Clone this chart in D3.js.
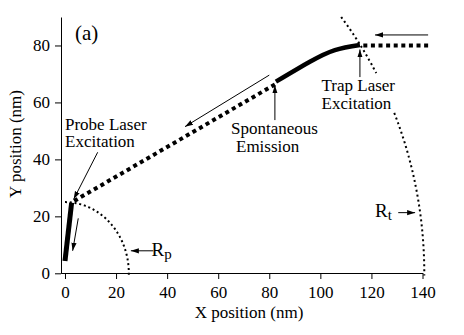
<!DOCTYPE html>
<html><head><meta charset="utf-8">
<script src="https://cdn.jsdelivr.net/npm/d3@7"></script>
<style>
html,body{margin:0;padding:0;background:#fff;}
svg{display:block;}
svg text{font-family:"Liberation Serif","Times New Roman",serif;}
</style></head><body>
<svg id="chart" width="464" height="335"></svg>
<script>
// Axis ticks (nm)
const xTicks = [0, 20, 40, 60, 80, 100, 120, 140];
const yTicks = [0, 20, 40, 60, 80];

// Atom trajectory pieces, points in nm
const trapApproach = [[142.2, 80.0], [116.0, 80.0]];                  // incoming atom
const trapKick = [[115.5, 80.2], [105.7, 78.4], [95.9, 74.3], [82.6, 67.3]]; // pushed by trap laser
const freeFlight = [[82.2, 66.3], [3.2, 25.2]];                       // after spontaneous emission
const probeKick = [[2.6, 24.8], [0.0, 4.3]];                          // pushed by probe laser

// Radii of the probe and trap beams (nm), and the y-ranges where each arc is drawn
const radiusProbe = 25;
const radiusTrap = 140.7;
const probeArcSpans = [[25, -0.5]];
const trapArcSpans = [[90, 70.3], [56.3, -0.8]];

// Pointer arrows, [from, to] in nm
const arrows = [
  [[142.2, 83.7], [121.4, 83.7]],
  [[80.0, 69.6], [47.0, 51.5]],
  [[115.5, 68.9], [115.5, 78.6]],
  [[82.2, 53.8], [82.2, 66.0]],
  [[12.8, 42.5], [3.4, 26.0]],
  [[5.2, 19.3], [3.0, 7.9]],
  [[34.6, 7.9], [25.8, 7.9]],
  [[130.5, 21.3], [137.1, 21.3]]
];

const serif = "Liberation Serif";
const svg = d3.select("#chart");
const x = d3.scaleLinear().domain([-1.6, 140]).range([60.9, 422.5]);
const y = d3.scaleLinear().domain([0, 90]).range([273.3, 17]);

svg.append("defs").append("marker")
  .attr("id", "head").attr("markerUnits", "userSpaceOnUse")
  .attr("markerWidth", 10).attr("markerHeight", 8)
  .attr("viewBox", "0 -4 10 8").attr("refX", 8).attr("refY", 0)
  .attr("orient", "auto")
  .append("path").attr("d", "M0,-2.6L8,0L0,2.6Z").attr("fill", "#000");

// Axes
const xAxis = svg.append("g").attr("transform", "translate(0,273)")
  .call(d3.axisBottom(x).tickValues(xTicks).tickSize(6).tickSizeOuter(0).tickPadding(7));
const yAxis = svg.append("g").attr("transform", "translate(61,0)")
  .call(d3.axisLeft(y).tickValues(yTicks).tickSize(6).tickSizeOuter(0).tickPadding(5));
[xAxis, yAxis].forEach(g => {
  g.attr("font-family", serif);
  g.selectAll("text").attr("font-family", serif).attr("font-size", 17).attr("fill", "#000");
  g.selectAll("path,line").attr("stroke", "#000").attr("stroke-width", 1);
});

svg.append("text").attr("x", 249).attr("y", 318).attr("text-anchor", "middle")
  .attr("font-family", serif).attr("font-size", 17).text("X position (nm)");
svg.append("text").attr("transform", "translate(21,144) rotate(-90)").attr("text-anchor", "middle")
  .attr("font-family", serif).attr("font-size", 17).text("Y position (nm)");

const line = d3.line().x(d => x(d[0])).y(d => y(d[1]));

// Beam radius arcs
function arcPoints(r, yFrom, yTo) {
  const a0 = Math.asin(Math.min(1, yFrom / r)), a1 = Math.asin(yTo / r);
  return d3.range(0, 121).map(i => {
    const a = a0 + (a1 - a0) * i / 120;
    return [r * Math.cos(a), r * Math.sin(a)];
  });
}
probeArcSpans.forEach(s => svg.append("path").attr("d", line(arcPoints(radiusProbe, s[0], s[1])))
  .attr("fill", "none").attr("stroke", "#000").attr("stroke-width", 2).attr("stroke-dasharray", "2 2.8"));
trapArcSpans.forEach(s => svg.append("path").attr("d", line(arcPoints(radiusTrap, s[0], s[1])))
  .attr("fill", "none").attr("stroke", "#000").attr("stroke-width", 2).attr("stroke-dasharray", "2 3"));

// Trajectory
svg.append("path").attr("d", line(trapApproach)).attr("fill", "none").attr("stroke", "#000")
  .attr("stroke-width", 4).attr("stroke-dasharray", "4 3.6");
svg.append("path").attr("d", line(freeFlight)).attr("fill", "none").attr("stroke", "#000")
  .attr("stroke-width", 4).attr("stroke-dasharray", "4 3.6");
svg.append("path").attr("d", line.curve(d3.curveNatural)(trapKick)).attr("fill", "none").attr("stroke", "#000")
  .attr("stroke-width", 4.5);
line.curve(d3.curveLinear);
svg.append("path").attr("d", line(probeKick)).attr("fill", "none").attr("stroke", "#000")
  .attr("stroke-width", 5);

// Pointer arrows
arrows.forEach(a => svg.append("line")
  .attr("x1", x(a[0][0])).attr("y1", y(a[0][1]))
  .attr("x2", x(a[1][0])).attr("y2", y(a[1][1]))
  .attr("stroke", "#000").attr("stroke-width", 1).attr("marker-end", "url(#head)"));

// Labels
const labels = [
  {t: "(a)", x: 75, y: 40, s: 21},
  {t: "Probe Laser", x: 65, y: 129.5, s: 17},
  {t: "Excitation", x: 65, y: 146.8, s: 17},
  {t: "Spontaneous", x: 231, y: 134, s: 17},
  {t: "Emission", x: 236, y: 151.5, s: 17},
  {t: "Trap Laser", x: 321.5, y: 91.3, s: 17},
  {t: "Excitation", x: 321.5, y: 108.7, s: 17}
];
labels.forEach(l => svg.append("text").attr("x", l.x).attr("y", l.y)
  .attr("font-family", serif).attr("font-size", l.s).text(l.t));

function radiusLabel(px, py, sub) {
  const t = svg.append("text").attr("x", px).attr("y", py)
    .attr("font-family", serif).attr("font-size", 19);
  t.append("tspan").text("R");
  t.append("tspan").attr("font-size", 15).attr("dy", 3).text(sub);
}
radiusLabel(151.5, 256, "p");
radiusLabel(375, 217, "t");
</script>
</body></html>
